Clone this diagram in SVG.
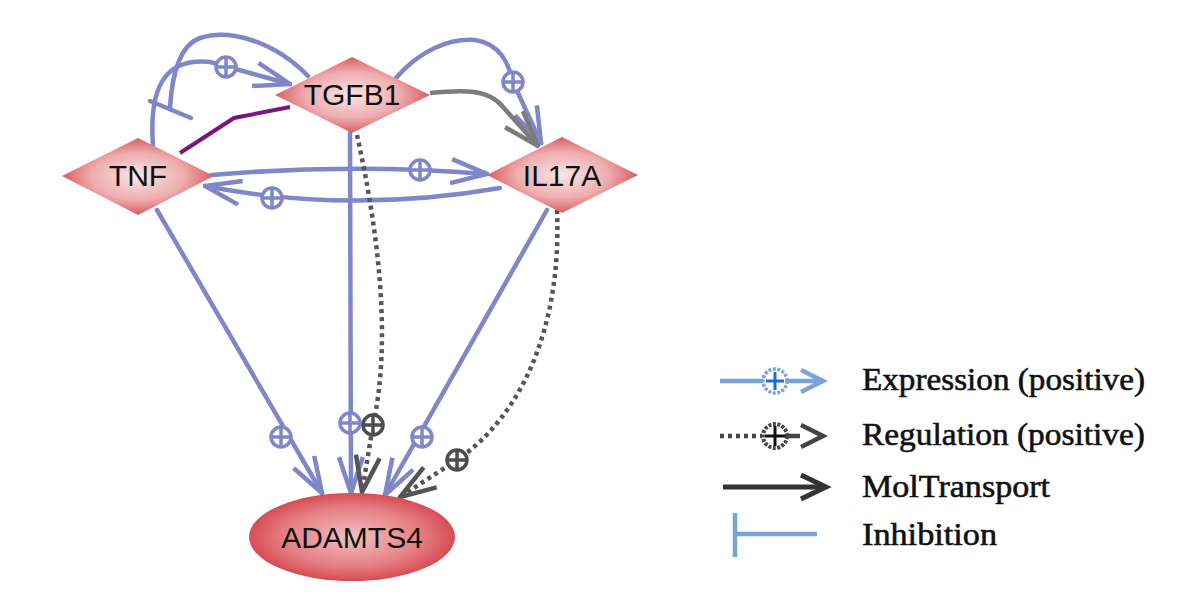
<svg xmlns="http://www.w3.org/2000/svg" xmlns:xlink="http://www.w3.org/1999/xlink" width="1200" height="602" viewBox="0 0 1200 602">
<style>
.exp{fill:none;stroke:#7f87c9;stroke-width:4.5;stroke-linecap:round}
.reg{fill:none;stroke:#555;stroke-width:4.5;stroke-dasharray:4 4}
.mol{fill:none;stroke:#7c7c7c;stroke-width:4.5}
.bind{fill:none;stroke:#7b1380;stroke-width:4}
.lbl{font-family:"Liberation Sans",Arial,sans-serif;font-size:30px;fill:#111;text-anchor:middle}
.leg{font-family:"Liberation Serif","Times New Roman",serif;font-size:32px;fill:#111;stroke:#111;stroke-width:0.6}
</style>
<defs>
<radialGradient id="gD" cx="50%" cy="50%" r="55%">
<stop offset="0" stop-color="#f8e6e6"/><stop offset="0.55" stop-color="#eeadaf"/><stop offset="1" stop-color="#d7474e"/>
</radialGradient>
<radialGradient id="gE" cx="50%" cy="50%" r="55%">
<stop offset="0" stop-color="#f1c0c1"/><stop offset="0.6" stop-color="#e67f84"/><stop offset="1" stop-color="#d23d46"/>
</radialGradient>
<marker id="aB" markerUnits="userSpaceOnUse" viewBox="0 0 40 28" refX="38" refY="14" markerWidth="40" markerHeight="28" orient="auto"><path d="M2,2 L38,14 L2,26" fill="none" stroke="#7f87c9" stroke-width="4.5"/></marker>
<marker id="aD" markerUnits="userSpaceOnUse" viewBox="0 0 40 28" refX="38" refY="14" markerWidth="40" markerHeight="28" orient="auto"><path d="M2,2 L38,14 L2,26" fill="none" stroke="#555" stroke-width="4.5"/></marker>
<marker id="aG" markerUnits="userSpaceOnUse" viewBox="0 0 40 28" refX="38" refY="14" markerWidth="40" markerHeight="28" orient="auto"><path d="M2,2 L38,14 L2,26" fill="none" stroke="#7c7c7c" stroke-width="4.5"/></marker>
<g id="pB"><circle r="10" fill="#fff" stroke="#7f87c9" stroke-width="3.5"/><path d="M-10,0H10M0,-10V10" stroke="#7f87c9" stroke-width="3.5"/></g>
<g id="pD"><circle r="10" fill="#fff" stroke="#4d4d4d" stroke-width="3.5"/><path d="M-10,0H10M0,-10V10" stroke="#4d4d4d" stroke-width="3.5"/></g>
</defs>
<rect width="1200" height="602" fill="#fff"/>

<g id="connectors">
<path class="exp" d="M153,146 C148,80 170,58 210,62 L290,84" marker-end="url(#aB)"/>
<use href="#pB" x="226" y="67"/>
<path class="exp" d="M308,76 C275,42 230,28 200,38 C180,45 172,75 170,108"/>
<path class="exp" d="M150,101 L191,118"/>
<path class="bind" d="M180,153 L234,118 L290,107"/>
<path class="exp" d="M396,78 C420,50 450,38 475,40 C500,44 508,62 513,82 L541,143" marker-end="url(#aB)"/>
<use href="#pB" x="513" y="82"/>
<path class="mol" d="M430,93 C460,90 488,88 503,107 L538,146" marker-end="url(#aG)"/>
<path class="exp" d="M212,175 Q350,163 487,174" marker-end="url(#aB)"/>
<use href="#pB" x="420" y="170"/>
<path class="exp" d="M500,188 Q350,214 205,186" marker-end="url(#aB)"/>
<use href="#pB" x="272" y="198"/>
<path class="exp" d="M157,210 L322,493" marker-end="url(#aB)"/>
<use href="#pB" x="281" y="437"/>
<path class="exp" d="M350,133 L351,493" marker-end="url(#aB)"/>
<use href="#pB" x="350" y="423"/>
<path class="exp" d="M547,210 L385,495" marker-end="url(#aB)"/>
<use href="#pB" x="422" y="437"/>
<path class="reg" d="M357,135 C378,230 392,340 373,425 L362,492" marker-end="url(#aD)"/>
<use href="#pD" x="373" y="425"/>
<path class="reg" d="M557,210 C562,330 520,415 460,458 L400,497" marker-end="url(#aD)"/>
<use href="#pD" x="457" y="460"/>
</g>

<g id="TNF"><polygon points="62,176 138,138 214,176 138,215" fill="url(#gD)"/><text class="lbl" x="138" y="186">TNF</text></g>
<g id="TGFB1"><polygon points="275,95 352,57 430,95 352,133" fill="url(#gD)"/><text class="lbl" x="352" y="105">TGFB1</text></g>
<g id="IL17A"><polygon points="487,175 562,137 638,175 562,213" fill="url(#gD)"/><text class="lbl" x="562" y="186">IL17A</text></g>
<g id="ADAMTS4"><ellipse cx="352" cy="537" rx="103" ry="44" fill="url(#gE)"/><text class="lbl" x="352" y="548" font-size="31">ADAMTS4</text></g>

<g id="legend">
<path d="M720,381 L820,381" stroke="#7aa3d6" stroke-width="4.5" fill="none"/>
<path d="M801,370 L823,381 L801,392" stroke="#7aa3d6" stroke-width="4.5" fill="none"/>
<circle cx="775" cy="381" r="12" fill="#fff" stroke="#7aa3d6" stroke-width="3.5" stroke-dasharray="3 1.5"/>
<path d="M766,381H784M775,372V390" stroke="#1b6ec2" stroke-width="3"/>
<text class="leg" x="862" y="390" textLength="283" lengthAdjust="spacingAndGlyphs">Expression (positive)</text>
<path d="M720,436 L762,436" stroke="#444" stroke-width="4.5" stroke-dasharray="4 4" fill="none"/>
<path d="M787,436 L800,436" stroke="#444" stroke-width="4.5" fill="none"/>
<path d="M801,425 L823,436 L801,447" stroke="#444" stroke-width="4.5" fill="none"/>
<circle cx="775" cy="436" r="12" fill="#fff" stroke="#444" stroke-width="4" stroke-dasharray="3 1.5"/>
<path d="M765,436H785M775,426V446" stroke="#111" stroke-width="3"/>
<text class="leg" x="862" y="445" textLength="283" lengthAdjust="spacingAndGlyphs">Regulation (positive)</text>
<path d="M723,487 L824,487" stroke="#333" stroke-width="5" fill="none"/>
<path d="M801,475 L826,487 L801,499" stroke="#333" stroke-width="5" fill="none"/>
<text class="leg" x="862" y="497" textLength="188" lengthAdjust="spacingAndGlyphs">MolTransport</text>
<path d="M735,513 L735,557 M735,534 L817,534" stroke="#7aa3d6" stroke-width="4.5" fill="none"/>
<text class="leg" x="862" y="545" textLength="135" lengthAdjust="spacingAndGlyphs">Inhibition</text>
</g>
</svg>
